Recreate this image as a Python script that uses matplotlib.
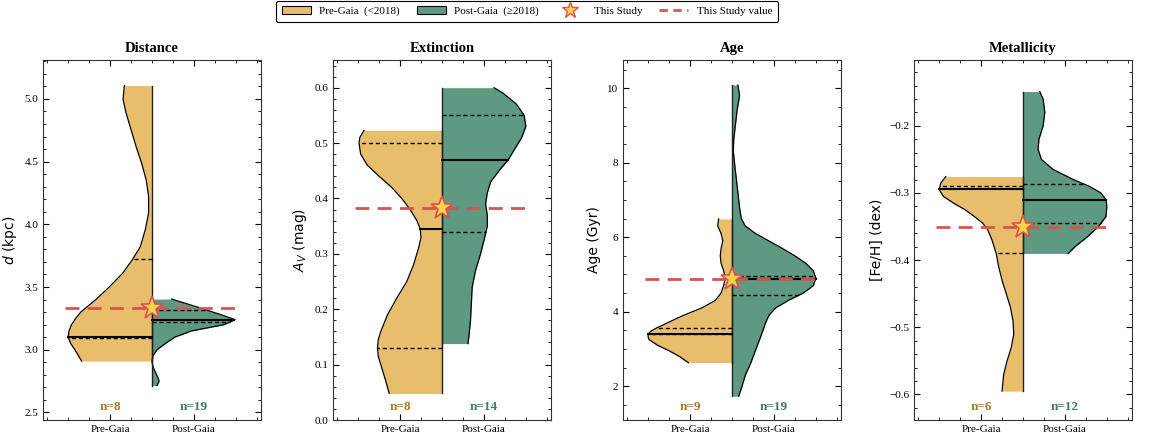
import numpy as np
import matplotlib
matplotlib.use("Agg")
import matplotlib.pyplot as plt
from matplotlib.patches import Patch
from matplotlib.lines import Line2D
from matplotlib.ticker import MultipleLocator

PRE_COLOR = "#E8BE6C"
POST_COLOR = "#5E9A82"
PRE_TEXT = "#A67C1E"
POST_TEXT = "#3E7B62"
RED = "#D9534F"
STAR = "#F7D54A"

titles = ["Distance", "Extinction", "Age", "Metallicity"]
ylabels = ["$d$ (kpc)", "$A_V$ (mag)", "Age (Gyr)", "[Fe/H] (dex)"]
study_values = [3.33, 0.383, 4.89, -0.35]
n_pre = [8, 8, 9, 6]
n_post = [19, 14, 19, 12]

# violin outlines: y level and half-width (max = 1)
dist_pre_y = [2.91, 3.0, 3.05, 3.1, 3.15, 3.2, 3.25, 3.3, 3.4, 3.5, 3.61, 3.717, 3.82, 3.957,
              4.09, 4.22, 4.356, 4.49, 4.62, 4.755, 4.89, 4.995, 5.106]
dist_pre_w = [0.84, 0.92, 0.97, 1.0, 0.99, 0.96, 0.91, 0.85, 0.67, 0.51, 0.35, 0.235, 0.14, 0.08,
              0.04, 0.04, 0.07, 0.125, 0.19, 0.25, 0.31, 0.345, 0.33]
dist_post_y = [2.715, 2.75, 2.78, 2.85, 2.9, 2.95, 3.0, 3.05, 3.1, 3.15, 3.2, 3.24, 3.28, 3.33, 3.404]
dist_post_w = [0.06, 0.085, 0.07, 0.02, 0.0, 0.01, 0.06, 0.16, 0.27, 0.47, 0.86, 0.99, 0.82, 0.59, 0.235]

ext_pre_y = [0.048, 0.07, 0.10, 0.115, 0.13, 0.145, 0.16, 0.19, 0.22, 0.25, 0.28, 0.31, 0.33, 0.345,
             0.36, 0.38, 0.40, 0.42, 0.44, 0.46, 0.48, 0.50, 0.51, 0.523]
ext_pre_w = [0.63, 0.67, 0.73, 0.76, 0.77, 0.76, 0.73, 0.65, 0.54, 0.42, 0.34, 0.28, 0.25, 0.26,
             0.30, 0.38, 0.48, 0.60, 0.75, 0.89, 0.97, 0.99, 0.98, 0.93]
ext_post_y = [0.138, 0.15, 0.18, 0.21, 0.24, 0.27, 0.30, 0.33, 0.35, 0.37, 0.39, 0.41,
              0.43, 0.45, 0.47, 0.49, 0.51, 0.53, 0.55, 0.57, 0.59, 0.60]
ext_post_w = [0.31, 0.32, 0.34, 0.35, 0.36, 0.40, 0.46, 0.51, 0.54, 0.54, 0.52, 0.54,
              0.58, 0.68, 0.79, 0.87, 0.95, 1.0, 0.98, 0.89, 0.73, 0.62]

age_pre_y = [2.63, 2.8, 2.95, 3.1, 3.25, 3.32, 3.4, 3.47, 3.55, 3.7, 3.9, 4.1, 4.3, 4.5, 4.7, 4.9,
             5.1, 5.3, 5.5, 5.7, 5.9, 6.1, 6.3, 6.49]
age_pre_w = [0.52, 0.63, 0.75, 0.89, 0.99, 1.0, 1.0, 0.97, 0.91, 0.77, 0.58, 0.36, 0.20, 0.13, 0.10, 0.08,
             0.10, 0.13, 0.14, 0.13, 0.11, 0.13, 0.17, 0.16]
age_post_y = [1.73, 2.0, 2.3, 2.6, 2.9, 3.2, 3.5, 3.7, 3.9, 4.1, 4.3, 4.5, 4.7, 4.9, 5.1,
              5.3, 5.5, 5.7, 5.9, 6.1, 6.3, 6.5, 6.8, 7.2, 7.6, 8.0, 8.3, 8.6, 9.0, 9.4, 9.8, 10.09]
age_post_w = [0.08, 0.12, 0.16, 0.22, 0.27, 0.32, 0.37, 0.40, 0.44, 0.52, 0.67, 0.85, 0.97, 1.0, 0.97,
              0.88, 0.75, 0.60, 0.44, 0.28, 0.16, 0.11, 0.09, 0.07, 0.05, 0.03, 0.016, 0.02, 0.04, 0.06, 0.09, 0.07]

met_pre_y = [-0.595, -0.57, -0.55, -0.53, -0.51, -0.49, -0.47, -0.45, -0.43, -0.41, -0.39,
             -0.37, -0.355, -0.345, -0.335, -0.325, -0.315, -0.305, -0.295, -0.285, -0.2755]
met_pre_w = [0.25, 0.23, 0.19, 0.14, 0.11, 0.12, 0.15, 0.20, 0.25, 0.29, 0.32,
             0.37, 0.42, 0.48, 0.58, 0.69, 0.83, 0.95, 1.0, 0.98, 0.92]
met_post_y = [-0.39, -0.38, -0.365, -0.35, -0.335, -0.32, -0.31, -0.30, -0.29, -0.28,
              -0.265, -0.25, -0.235, -0.22, -0.20, -0.18, -0.16, -0.149]
met_post_w = [0.54, 0.62, 0.77, 0.90, 0.99, 1.0, 0.99, 0.93, 0.79, 0.60,
              0.36, 0.22, 0.18, 0.19, 0.24, 0.26, 0.24, 0.20]

# quartiles (Q1, median, Q3)
dist_pre_q = [3.095, 3.10, 3.72]
dist_post_q = [3.22, 3.235, 3.315]
ext_pre_q = [0.13, 0.345, 0.50]
ext_post_q = [0.34, 0.47, 0.55]
age_pre_q = [3.39, 3.40, 3.55]
age_post_q = [4.44, 4.89, 4.96]
met_pre_q = [-0.39, -0.294, -0.289]
met_post_q = [-0.345, -0.311, -0.287]

pre_profiles = [(dist_pre_y, dist_pre_w), (ext_pre_y, ext_pre_w),
                (age_pre_y, age_pre_w), (met_pre_y, met_pre_w)]
post_profiles = [(dist_post_y, dist_post_w), (ext_post_y, ext_post_w),
                 (age_post_y, age_post_w), (met_post_y, met_post_w)]
pre_quart = [dist_pre_q, ext_pre_q, age_pre_q, met_pre_q]
post_quart = [dist_post_q, ext_post_q, age_post_q, met_post_q]

ylims = [(2.44, 5.31), (0.0, 0.65), (1.09, 10.76), (-0.638, -0.102)]
major = [0.5, 0.1, 2, 0.1]
minor = [0.1, 0.02, 0.5, 0.02]

serif = "Liberation Serif"


def half_violin(ax, ys, ws, quart, side, color):
    ys = np.array(ys)
    ws = np.array(ws) * side
    ax.fill_betweenx(ys, 0, ws, color=color, lw=0, zorder=2)
    ax.plot(ws, ys, color="black", lw=0.9, zorder=3, solid_joinstyle="round")
    ax.plot([0, 0], [ys[0], ys[-1]], color="#222222", lw=1.0, zorder=3)
    for i, q in enumerate(quart):
        wq = np.interp(q, ys, ws)
        if i == 1:
            ax.plot([0, wq], [q, q], color="black", lw=1.5, zorder=4)
        else:
            ax.plot([0, wq], [q, q], color="black", lw=1.0, ls=(0, (3, 2)), zorder=4)


fig = plt.figure(figsize=(11.53, 4.37), dpi=100)
lefts = [43, 333, 623, 914]
for k in range(4):
    ax = fig.add_axes([lefts[k] / 1153, 17 / 437, 218 / 1153, 360 / 437])
    half_violin(ax, *pre_profiles[k], pre_quart[k], -1, PRE_COLOR)
    half_violin(ax, *post_profiles[k], post_quart[k], 1, POST_COLOR)

    v = study_values[k]
    ax.plot([-1.04, 1.04], [v, v], color=RED, lw=2, ls=(0, (5, 3)), zorder=5)
    ax.plot(0, v, marker="*", ms=17, mfc=STAR, mec=RED, mew=1.2, zorder=6)

    ax.text(-0.5, 0.035, f"n={n_pre[k]}", transform=ax.get_xaxis_transform(),
            ha="center", va="center", color=PRE_TEXT, fontsize=9.5,
            fontweight="bold", family=serif)
    ax.text(0.5, 0.035, f"n={n_post[k]}", transform=ax.get_xaxis_transform(),
            ha="center", va="center", color=POST_TEXT, fontsize=9.5,
            fontweight="bold", family=serif)

    ax.set_xlim(-1.3, 1.3)
    ax.set_ylim(*ylims[k])
    ax.set_xticks([-0.5, 0.5])
    ax.set_xticklabels(["Pre-Gaia", "Post-Gaia"], family=serif, fontsize=8)
    ax.xaxis.set_minor_locator(MultipleLocator(0.25))
    ax.yaxis.set_major_locator(MultipleLocator(major[k]))
    ax.yaxis.set_minor_locator(MultipleLocator(minor[k]))
    ax.tick_params(which="both", direction="in", top=True, right=True, labelsize=8)
    ax.tick_params(which="major", length=4, width=0.8)
    ax.tick_params(which="minor", length=2.2, width=0.6)
    for lab in ax.get_yticklabels():
        lab.set_family(serif)
    for sp in ax.spines.values():
        sp.set_linewidth(0.8)
        sp.set_color("#333333")
    ax.set_ylabel(ylabels[k], fontsize=10)
    ax.set_title(titles[k], family=serif, fontweight="bold", fontsize=10.5, pad=6)

handles = [
    Patch(facecolor=PRE_COLOR, edgecolor="black", lw=0.8, label="Pre-Gaia  (<2018)"),
    Patch(facecolor=POST_COLOR, edgecolor="black", lw=0.8, label="Post-Gaia  (≥2018)"),
    Line2D([], [], ls="none", marker="*", ms=12, mfc=STAR, mec=RED, mew=1.0, label="This Study"),
    Line2D([], [], color=RED, lw=2, ls=(0, (3, 2)), label="This Study value"),
]
leg = fig.legend(handles=handles, loc="upper center", bbox_to_anchor=(0.457, 0.998), ncol=4,
                 prop={"family": serif, "size": 8}, frameon=True, fancybox=True,
                 edgecolor="black", framealpha=1, borderpad=0.5, columnspacing=1.5,
                 handlelength=2.6, borderaxespad=0.0)
leg.get_frame().set_linewidth(0.8)

fig.savefig("out.png", dpi=100)
